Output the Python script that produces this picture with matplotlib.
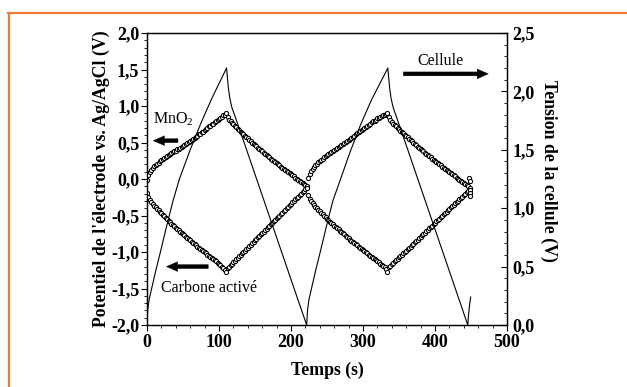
import numpy as np
import matplotlib
matplotlib.use("Agg")
import matplotlib.pyplot as plt
from matplotlib.ticker import MultipleLocator, FuncFormatter
from matplotlib.lines import Line2D

plt.rcParams['font.family'] = ['Liberation Serif', 'DejaVu Serif']
plt.rcParams['mathtext.fontset'] = 'custom'
plt.rcParams['mathtext.rm'] = 'Liberation Serif'

# ---------------- data ----------------
# sampling times of electrode potentials (s)
t_s = np.arange(0, 450, 2)

mno2 = [
    -0.02, 0.06, 0.10, 0.13, 0.155, 0.175, 0.195, 0.21, 0.225, 0.24,
    0.255, 0.27, 0.285, 0.30, 0.31, 0.325, 0.34, 0.35, 0.365, 0.38,
    0.39, 0.405, 0.415, 0.43, 0.44, 0.455, 0.465, 0.48, 0.49, 0.505,
    0.52, 0.53, 0.55, 0.56, 0.58, 0.59, 0.61, 0.62, 0.64, 0.65,
    0.67, 0.68, 0.70, 0.72, 0.73, 0.75, 0.76, 0.78, 0.79, 0.81,
    0.82, 0.84, 0.85, 0.87, 0.88, 0.90,
    0.85, 0.81, 0.79, 0.77, 0.75, 0.73, 0.71, 0.69, 0.67, 0.65,
    0.63, 0.615, 0.595, 0.575, 0.555, 0.54, 0.52, 0.50, 0.485, 0.465,
    0.45, 0.43, 0.415, 0.395, 0.38, 0.36, 0.345, 0.33, 0.31, 0.295,
    0.28, 0.26, 0.245, 0.23, 0.215, 0.20, 0.185, 0.17, 0.155, 0.14,
    0.125, 0.11, 0.095, 0.08, 0.065, 0.05, 0.035, 0.02, 0.005, -0.01,
    -0.025, -0.04, -0.055, -0.07, -0.085, -0.10,
    0.01, 0.07, 0.11, 0.14, 0.165, 0.19, 0.21, 0.23, 0.25, 0.265,
    0.28, 0.295, 0.31, 0.325, 0.34, 0.355, 0.37, 0.385, 0.40, 0.415,
    0.43, 0.44, 0.455, 0.47, 0.48, 0.495, 0.51, 0.52, 0.535, 0.55,
    0.565, 0.58, 0.595, 0.61, 0.625, 0.64, 0.655, 0.67, 0.685, 0.70,
    0.715, 0.73, 0.745, 0.76, 0.775, 0.79, 0.80, 0.815, 0.83, 0.84,
    0.85, 0.86, 0.87, 0.88, 0.89, 0.90,
    0.85, 0.81, 0.78, 0.76, 0.74, 0.72, 0.70, 0.68, 0.66, 0.645,
    0.625, 0.605, 0.59, 0.57, 0.55, 0.535, 0.515, 0.50, 0.48, 0.465,
    0.445, 0.43, 0.41, 0.395, 0.38, 0.36, 0.345, 0.33, 0.31, 0.295,
    0.28, 0.265, 0.25, 0.235, 0.22, 0.205, 0.19, 0.17, 0.155, 0.14,
    0.125, 0.11, 0.095, 0.08, 0.065, 0.05, 0.035, 0.02, 0.005, -0.01,
    -0.025, -0.04, -0.055, -0.07, -0.085, -0.10, -0.12,
]

carbone = [
    -0.19, -0.25, -0.285, -0.315, -0.34, -0.365, -0.39, -0.41, -0.43, -0.45,
    -0.47, -0.49, -0.51, -0.53, -0.55, -0.57, -0.59, -0.61, -0.625, -0.645,
    -0.665, -0.68, -0.70, -0.72, -0.735, -0.755, -0.77, -0.79, -0.805, -0.825,
    -0.84, -0.86, -0.875, -0.89, -0.91, -0.925, -0.94, -0.96, -0.975, -0.99,
    -1.005, -1.02, -1.04, -1.055, -1.07, -1.085, -1.10, -1.115, -1.13, -1.15,
    -1.165, -1.18, -1.20, -1.22, -1.24, -1.28,
    -1.22, -1.20, -1.18, -1.16, -1.14, -1.12, -1.10, -1.08, -1.06, -1.04,
    -1.02, -1.00, -0.98, -0.96, -0.94, -0.92, -0.90, -0.88, -0.86, -0.84,
    -0.82, -0.80, -0.78, -0.76, -0.74, -0.72, -0.70, -0.68, -0.66, -0.64,
    -0.62, -0.60, -0.58, -0.56, -0.54, -0.52, -0.50, -0.48, -0.46, -0.44,
    -0.42, -0.40, -0.38, -0.36, -0.34, -0.32, -0.30, -0.28, -0.26, -0.24,
    -0.22, -0.20, -0.18, -0.16, -0.14, -0.12,
    -0.22, -0.27, -0.30, -0.33, -0.355, -0.38, -0.40, -0.425, -0.445, -0.465,
    -0.485, -0.505, -0.525, -0.545, -0.565, -0.585, -0.60, -0.62, -0.64, -0.655,
    -0.675, -0.69, -0.71, -0.725, -0.745, -0.76, -0.78, -0.795, -0.81, -0.83,
    -0.845, -0.86, -0.88, -0.895, -0.91, -0.93, -0.945, -0.96, -0.975, -0.99,
    -1.005, -1.02, -1.035, -1.05, -1.065, -1.08, -1.095, -1.11, -1.125, -1.14,
    -1.16, -1.175, -1.19, -1.21, -1.23, -1.27,
    -1.21, -1.19, -1.17, -1.15, -1.13, -1.115, -1.095, -1.075, -1.055, -1.035,
    -1.02, -1.00, -0.98, -0.96, -0.94, -0.925, -0.905, -0.885, -0.865, -0.845,
    -0.83, -0.81, -0.79, -0.77, -0.75, -0.735, -0.715, -0.695, -0.675, -0.655,
    -0.64, -0.62, -0.60, -0.58, -0.56, -0.545, -0.525, -0.505, -0.485, -0.465,
    -0.45, -0.43, -0.41, -0.39, -0.37, -0.355, -0.335, -0.315, -0.295, -0.275,
    -0.26, -0.24, -0.22, -0.20, -0.18, -0.165, -0.15,
]

# scattered last points at end of the run
t_tail = [447, 448, 448.5, 449]
v_tail = [0.02, -0.03, -0.19, -0.23]

# cell voltage (right axis)
t_cell = [0, 1, 3, 6, 12, 20, 27, 36, 45, 60,
          75, 90, 105, 110.5, 111.5, 113, 115, 118, 130, 150,
          170, 190, 210, 221.8, 223, 225, 228, 234, 242, 249,
          258, 266, 282, 297, 312, 327, 334.5, 335.5, 337, 339,
          342, 355, 375, 395, 415, 435, 445.5, 446.5, 448, 449.5]
v_cell = [0.0, 0.13, 0.22, 0.30, 0.46, 0.66, 0.84, 1.06, 1.25, 1.50,
          1.73, 1.94, 2.13, 2.20, 2.13, 2.03, 1.94, 1.86, 1.65, 1.29,
          0.93, 0.57, 0.21, 0.0, 0.13, 0.22, 0.30, 0.46, 0.66, 0.84,
          1.06, 1.20, 1.48, 1.72, 1.93, 2.11, 2.20, 2.13, 2.03, 1.94,
          1.86, 1.63, 1.27, 0.91, 0.55, 0.19, 0.0, 0.08, 0.17, 0.24]

assert len(mno2) == len(t_s) and len(carbone) == len(t_s)

# ---------------- figure ----------------
W, H = 627, 387
fig = plt.figure(figsize=(W / 100, H / 100), dpi=100)
fig.patch.set_facecolor('white')

L, R, T, B = 147, 507, 33, 325
ax = fig.add_axes([L / W, 1 - B / H, (R - L) / W, (B - T) / H])
ax2 = ax.twinx()

mk = dict(linestyle='none', marker='o', ms=3.0, mfc='white', mec='black', mew=0.75)
ax.plot(t_s, mno2, **mk, zorder=3)
ax.plot(t_s, carbone, **mk, zorder=3)
ax.plot(t_tail, v_tail, **mk, zorder=3)

ax2.plot(t_cell, v_cell, color='black', lw=0.8)

ax.set_xlim(0, 500)
ax.set_ylim(-2, 2)
ax2.set_ylim(0, 2.5)

fmt = FuncFormatter(lambda v, p: ('%.1f' % v).replace('.', ',').replace('-0,0', '0,0'))
ax.yaxis.set_major_locator(MultipleLocator(0.5))
ax.yaxis.set_minor_locator(MultipleLocator(0.1))
ax.yaxis.set_major_formatter(fmt)
ax.xaxis.set_major_locator(MultipleLocator(100))
ax.xaxis.set_minor_locator(MultipleLocator(20))
ax2.yaxis.set_major_locator(MultipleLocator(0.5))
ax2.yaxis.set_minor_locator(MultipleLocator(0.1))
ax2.yaxis.set_major_formatter(fmt)

tfs = 13
lfs = 12.8
ax.tick_params(axis='y', which='major', direction='out', length=4, width=0.8,
               labelsize=tfs, pad=1.5, left=True, right=False)
ax.tick_params(axis='y', which='minor', direction='out', length=2.2, width=0.6,
               left=True, right=False)
ax.tick_params(axis='x', which='major', direction='out', length=4, width=0.8,
               labelsize=tfs, pad=2.5, top=False)
ax.tick_params(axis='x', which='minor', direction='out', length=2.2, width=0.6, top=False)
ax2.tick_params(axis='y', which='major', direction='in', length=4, width=0.8,
                labelsize=tfs, pad=4)
ax2.tick_params(axis='y', which='minor', direction='in', length=2.2, width=0.6)

for a in (ax, ax2):
    for lab in a.get_xticklabels() + a.get_yticklabels():
        lab.set_fontweight('bold')
    for s in a.spines.values():
        s.set_linewidth(0.9)

ax.set_xlabel('Temps (s)', fontsize=lfs, fontweight='bold', labelpad=8)
ax.set_ylabel("Potentiel de l'électrode vs. Ag/AgCl (V)", fontsize=lfs,
              fontweight='bold', labelpad=1)
fig.text(549 / W, 1 - 171 / H, 'Tension de la cellule (V)', fontsize=lfs,
         fontweight='bold', rotation=270, ha='center', va='center')

# annotations
afs = 11.5
ax.text(8, 0.82, r'MnO$_2$', fontsize=afs, ha='left', va='center')
ax.text(375, 1.62, 'Cellule', fontsize=afs, ha='left', va='center')
ax.text(20, -1.49, 'Carbone activé', fontsize=afs, ha='left', va='center')

arr = dict(arrowstyle='simple,head_length=0.8,head_width=0.7,tail_width=0.28',
           fc='black', ec='black', lw=0.3, shrinkA=0, shrinkB=0)
ax.annotate('', xy=(8.8, 0.525), xytext=(43, 0.525), arrowprops=arr)
ax.annotate('', xy=(474, 1.44), xytext=(356, 1.44), arrowprops=arr)
ax.annotate('', xy=(27, -1.20), xytext=(85, -1.20), arrowprops=arr)

# orange frame (partially visible)
orange = '#ED7D31'
fig.add_artist(Line2D([8 / W, 1], [1 - 12.5 / H, 1 - 12.5 / H], color=orange, lw=1.6,
                      transform=fig.transFigure))
fig.add_artist(Line2D([8.5 / W, 8.5 / W], [0, 1 - 12.5 / H], color=orange, lw=1.6,
                      transform=fig.transFigure))

fig.savefig('out.png', dpi=100, facecolor='white')
